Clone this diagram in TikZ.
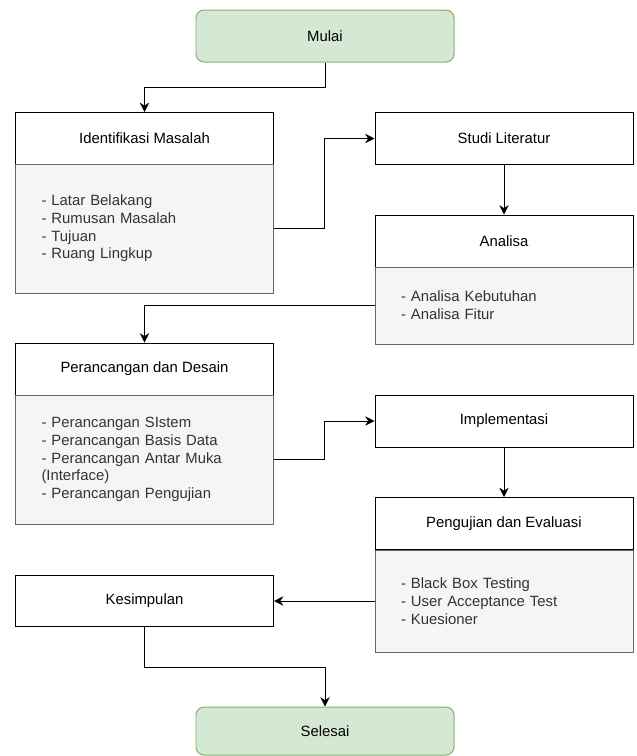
\documentclass[tikz,border=0pt]{standalone}
\usepackage{fontspec}
\setmainfont{Liberation Sans}
\usepackage{tikz}
\usetikzlibrary{arrows.meta}
\usetikzlibrary{positioning}
\definecolor{endfill}{HTML}{D5E8D4}
\definecolor{endline}{HTML}{82B366}
\definecolor{bodyfill}{HTML}{F5F5F5}
\definecolor{bodyline}{HTML}{666666}
\definecolor{bodytext}{HTML}{333333}
\tikzset{every picture/.style={line width=0.85pt},
  endbox/.style={draw=endline, fill=endfill, rounded corners=0.24cm, minimum width=7.74cm, font=\fontsize{12.7}{15.1}\selectfont},
  headbox/.style={draw, fill=white, minimum width=7.74cm, minimum height=1.56cm, font=\fontsize{12.7}{15.1}\selectfont},
  bodybox/.style={draw=bodyline, fill=bodyfill, text=bodytext, minimum width=7.74cm, text width=6.18cm, inner xsep=0.78cm, align=left, font=\fontsize{12.7}{15.1}\selectfont},
  flow/.style={-{Stealth[length=2.8mm, width=2.8mm]}}}

\begin{document}
\begin{tikzpicture}
\useasboundingbox (0,0) rectangle (19.11,-22.68);
\node (mulai) at (9.75cm,-1.08cm) [endbox, minimum height=1.56cm] {Mulai};

\node (ihead) at (4.335cm,-4.155cm) [headbox] {Identifikasi Masalah};
\node (ibody) at (4.335cm,-6.855cm) [bodybox, minimum height=3.87cm] {- Latar Belakang\\- Rumusan Masalah\\- Tujuan\\- Ruang Lingkup};

\node (studi) at (15.12cm,-4.155cm) [headbox] {Studi Literatur};

\node (ahead) at (15.12cm,-7.23cm) [headbox] {Analisa};
\node (abody) at (15.12cm,-9.165cm) [bodybox, minimum height=2.31cm] {- Analisa Kebutuhan\\- Analisa Fitur};

\node (phead) at (4.335cm,-11.07cm) [headbox] {Perancangan dan Desain};
\node (pbody) at (4.335cm,-13.785cm) [bodybox, minimum height=3.87cm] {- Perancangan SIstem\\- Perancangan Basis Data\\- Perancangan Antar Muka\\(Interface)\\- Perancangan Pengujian};

\node (impl) at (15.12cm,-12.63cm) [headbox] {Implementasi};

\node (uhead) at (15.12cm,-15.705cm) [headbox] {Pengujian dan Evaluasi};
\node (ubody) at (15.12cm,-18.03cm) [bodybox, minimum height=3.06cm] {- Black Box Testing\\- User Acceptance Test\\- Kuesioner};

\node (kes) at (4.335cm,-18.03cm) [headbox, minimum height=1.53cm] {Kesimpulan};

\node (selesai) at (9.75cm,-21.93cm) [endbox, minimum height=1.44cm] {Selesai};

\draw [flow] (mulai.south) -- ++(0,-0.76) -| (ihead.north);
\draw [flow] (ibody.east) -- ++(1.5,0) |- (studi.west);
\draw [flow] (studi) -- (ahead);
\draw [flow] (abody.west) -| (phead.north);
\draw [flow] (pbody.east) -- ++(1.5,0) |- (impl.west);
\draw [flow] (impl) -- (uhead);
\draw [flow] (ubody.west) -- (kes.east);
\draw [flow] (kes.south) -- ++(0,-1.2) -| (selesai.north);
\end{tikzpicture}
\end{document}
